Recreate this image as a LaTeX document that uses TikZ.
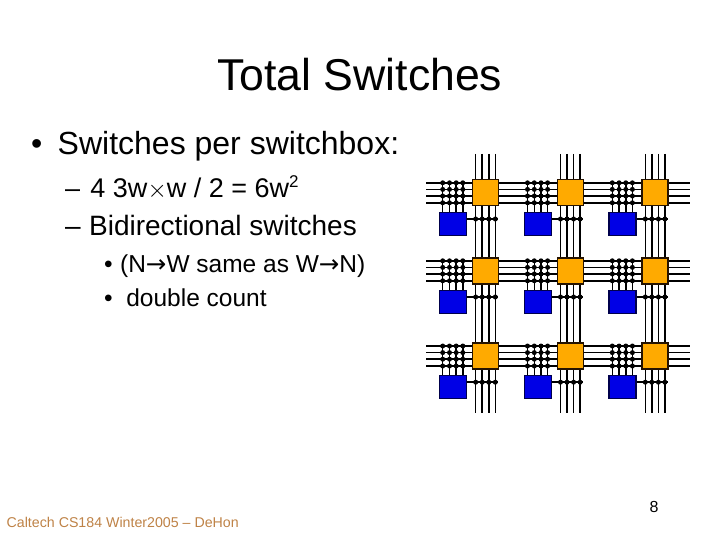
\documentclass[tikz,border=0pt]{standalone}
\usepackage{fontspec}
\setmainfont{Liberation Sans}
\newfontfamily\symfont{DejaVu Sans}
\definecolor{sorange}{RGB}{255,170,0}
\definecolor{sblue}{RGB}{0,0,230}
\definecolor{footcol}{RGB}{190,130,70}
\tikzset{
  slidetext/.style={anchor=base west,inner sep=0pt,font=#1},
  wire/.style={line width=1.5pt,black},
  sbox/.style={draw=black!85!orange,line width=1.4pt,fill=sorange,minimum size=26pt,inner sep=0pt},
  cbox/.style={draw=black!70!blue,line width=1.4pt,fill=sblue,minimum width=27pt,minimum height=23pt,inner sep=0pt},
  sdot/.style={circle,fill=black,inner sep=0pt,minimum size=5pt},
}
\newcommand{\rarr}{{\symfont\char"2192}}
\begin{document}
\begin{tikzpicture}[x=1pt,y=-1pt,>=stealth]
\useasboundingbox (0,0) rectangle (720,540);
\node[slidetext=\fontsize{44.6}{45}\selectfont] (title) at (217,90.5) {Total Switches};
\node[slidetext=\fontsize{32}{32}\selectfont] (b1) at (31,155) {\textbullet\hspace{.48em}Switches per switchbox:};
\node[slidetext=\fontsize{27}{27}\selectfont] (b2) at (65,197) {--\hspace{.38em}4 3w$\times$w / 2 = 6w\raisebox{.36em}{\fontsize{17}{17}\selectfont 2}};
\node[slidetext=\fontsize{28}{28}\selectfont] (b3) at (65,235.5) {--\hspace{.3em}Bidirectional switches};
\node[slidetext=\fontsize{24.5}{24.5}\selectfont] (b4) at (104,272) {\textbullet\hspace{.3em}(N\rarr W same as W\rarr N)};
\node[slidetext=\fontsize{24.5}{24.5}\selectfont] (b5) at (104,306) {\textbullet\ \ double count};
\node[slidetext=\fontsize{14.2}{14.2}\selectfont\color{footcol}] (foot) at (6.5,527) {Caltech CS184 Winter2005 -- DeHon};
\node[slidetext=\fontsize{16}{16}\selectfont] (num) at (649.5,512) {8};
% channel wires
\foreach \c in {0,1,2} \foreach \i/\ox in {1/475.7,2/482.2,3/488.8,4/495.3} {
  \coordinate (n\c\i) at ({\ox+84.8*\c},154);
  \coordinate (s\c\i) at ({\ox+84.8*\c},413);
  \draw[wire] (n\c\i)--(s\c\i);
}
\foreach \r/\oy in {0/192.8,1/270.8,2/356} \foreach \i/\dy in {1/-10,2/-3.4,3/3.2,4/10} {
  \coordinate (w\r\i) at (426,\oy+\dy);
  \coordinate (e\r\i) at (690,\oy+\dy);
  \draw[wire] (w\r\i)--(e\r\i);
}
% switchbox array
\foreach \c in {0,1,2} \foreach \r/\oy in {0/192.8,1/270.8,2/356} {
  \begin{scope}[shift={(84.8*\c,\oy)}]
  \node[sbox] (sw\c\r) at (485.5,0) {};
  \node[cbox] (lb\c\r) at (453,31) {};
  \coordinate (lo\c\r) at (498,26.2);
  \draw[wire] (lb\c\r.east |- lo\c\r)--(lo\c\r);
  \foreach \i/\ox in {1/442.7,2/449.5,3/456.2,4/462.8} {
    \coordinate (t\c\r\i) at (\ox,-12);
    \draw[wire] (t\c\r\i)--(lb\c\r.north -| t\c\r\i);
    \foreach \dy in {-10,-3.4,3.2,10}
      \node[sdot] (d) at (\ox,\dy) {};
  }
  \foreach \ox in {475.7,482.2,488.8,495.3}
    \node[sdot] (q) at (\ox,26.2) {};
  \end{scope}
}
\end{tikzpicture}
\end{document}
